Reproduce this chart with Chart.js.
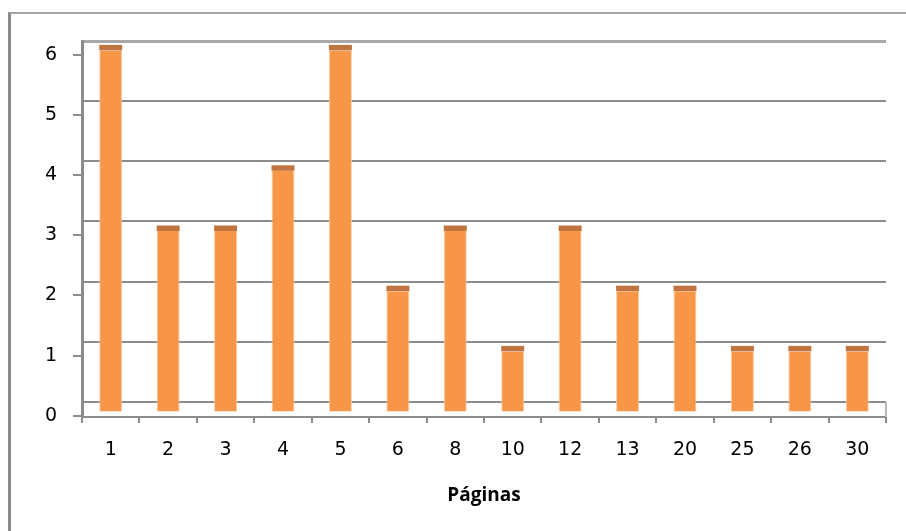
<!DOCTYPE html>
<html>
<head>
<meta charset="utf-8">
<script src="https://cdn.jsdelivr.net/npm/chart.js@4.4.1/dist/chart.umd.min.js"></script>
<style>
  html, body { margin: 0; padding: 0; background: #fff; }
  #wrap { position: relative; width: 906px; height: 531px; overflow: hidden; }
  #frame { position: absolute; left: 8px; top: 12px; width: 1000px; height: 1000px;
           border-left: 3px solid #8a8a8a; border-top: 2px solid #a6a6a6; }
  canvas { position: absolute; left: 0; top: 0; }
</style>
</head>
<body>
<div id="wrap">
  <div id="frame"></div>
  <canvas id="myChart" width="906" height="531"></canvas>
</div>
<script>
const paginas = ["1", "2", "3", "4", "5", "6", "8", "10", "12", "13", "20", "25", "26", "30"];
const cantidad = [6, 3, 3, 4, 6, 2, 3, 1, 3, 2, 2, 1, 1, 1];
const yTicks = [0, 1, 2, 3, 4, 5, 6];

const gris = "#8c8c8c";
const naranja = "#f79646";
const tapa = "#c07540";

// top face of each column (the 3D cap) and the floor's right edge
const efecto3d = {
    id: "efecto3d",
    afterDatasetsDraw(chart) {
        const ctx = chart.ctx;
        const meta = chart.getDatasetMeta(0);
        ctx.save();
        ctx.fillStyle = tapa;
        meta.data.forEach(bar => {
            ctx.fillRect(bar.x - bar.width / 2, bar.y - 5.5, bar.width, 5.5);
        });
        const area = chart.chartArea;
        const yFondo = chart.scales.grid.getPixelForValue(0);
        ctx.strokeStyle = "#b8b8b8";
        ctx.lineWidth = 2;
        ctx.beginPath();
        ctx.moveTo(area.right, yFondo);
        ctx.lineTo(area.right, area.bottom);
        ctx.stroke();
        ctx.restore();
    },
};

const ctx1 = document.getElementById("myChart").getContext("2d");

const myChart = new Chart(ctx1, {
    type: "bar",
    data: {
        labels: paginas,
        datasets: [
            {
                label: "Páginas",
                data: cantidad,
                backgroundColor: naranja,
                borderColor: "#fcc9a0",
                borderWidth: { left: 1, right: 1, top: 0, bottom: 0 },
                yAxisID: "barras",
                categoryPercentage: 1,
                barPercentage: 0.4,
            },
        ],
    },
    options: {
        responsive: false,
        animation: false,
        events: [],
        layout: { padding: { left: 0, top: 41, right: 20, bottom: 0 } },
        scales: {
            x: {
                offset: true,
                grid: { display: true, drawOnChartArea: false, offset: true, color: gris, lineWidth: 2, tickLength: 6 },
                border: { display: true, color: gris, width: 2 },
                ticks: { color: "#000", font: { family: "DejaVu Sans", size: 19 }, padding: 16, maxRotation: 0 },
                title: {
                    display: true, text: "Páginas", color: "#000",
                    font: { family: "Open Sans", size: 19, weight: "bold" },
                    padding: { top: 0, bottom: 24 },
                },
                afterFit: (scale) => { scale.height = 114; },
            },
            y: {
                position: "left",
                min: -0.02,
                max: 6.23,
                afterBuildTicks: (scale) => { scale.ticks = yTicks.map(v => ({ value: v })); },
                grid: { display: true, drawOnChartArea: false, color: gris, lineWidth: 2, tickLength: 9 },
                border: { display: true, color: gris, width: 3 },
                ticks: { color: "#000", font: { family: "DejaVu Sans", size: 19 }, padding: 16 },
                afterFit: (scale) => { scale.width = 82; },
            },
            grid: {
                position: "left",
                min: -0.25,
                max: 6,
                afterBuildTicks: (scale) => { scale.ticks = yTicks.map(v => ({ value: v })); },
                grid: {
                    display: true, drawTicks: false,
                    color: (c) => (c.tick && c.tick.value === 6 ? "#a8a8a8" : gris),
                    lineWidth: (c) => (c.tick && c.tick.value === 6 ? 3 : 2),
                },
                border: { display: false },
                ticks: { display: false },
                afterFit: (scale) => { scale.width = 0; },
            },
            barras: {
                display: false,
                min: -0.09,
                max: 6.156,
            },
        },
        plugins: {
            legend: { display: false },
            tooltip: { enabled: false },
        },
    },
    plugins: [efecto3d],
});
</script>
</body>
</html>
